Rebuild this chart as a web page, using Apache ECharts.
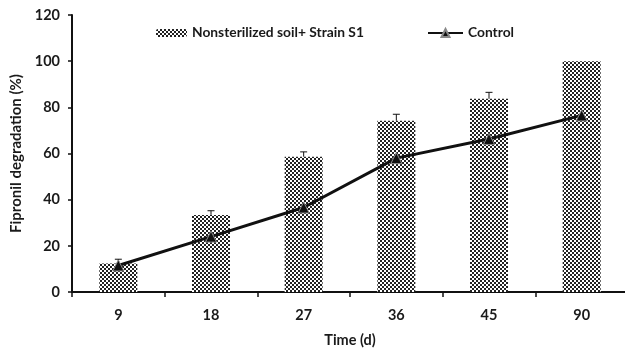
<!DOCTYPE html>
<html><head><meta charset="utf-8">
<script src="https://cdn.jsdelivr.net/npm/echarts@6/dist/echarts.min.js"></script>
<style>html,body{margin:0;padding:0;background:#fff}#c{width:625px;height:351px}</style>
</head><body><div id="c"></div>
<script>
const categories = ['9', '18', '27', '36', '45', '90'];
const strainValues = [12.4, 33.4, 58.6, 74.2, 83.7, 100];
const strainErrors = [1.8, 1.8, 2.1, 2.8, 2.8, 0];
const controlValues = [11.5, 24.0, 36.6, 58.0, 66.3, 76.5];
const yTicks = { min: 0, max: 120, interval: 20 };

const pc = document.createElement('canvas');
pc.width = 4; pc.height = 4;
const px = pc.getContext('2d');
px.fillStyle = '#fff'; px.fillRect(0, 0, 4, 4);
px.fillStyle = '#222'; px.fillRect(0, 0, 2, 2); px.fillRect(2, 2, 2, 2);
const pattern = { image: pc, repeat: 'repeat' };

const FONT = 'Lato';
const TXT = '#1a1a1a';
const chart = echarts.init(document.getElementById('c'), null, { renderer: 'canvas' });
chart.setOption({
  animation: false,
  backgroundColor: '#fff',
  textStyle: { fontFamily: FONT },
  grid: { left: 72, top: 15, width: 556, height: 277, containLabel: false, outerBoundsMode: 'none' },
  legend: [{
    data: ['Nonsterilized soil+ Strain S1'],
    left: 156, top: 26, padding: 0, itemWidth: 31, itemHeight: 8,
    textStyle: { fontFamily: FONT, fontWeight: 'bold', fontSize: 13.8, color: TXT }
  }, {
    data: ['Control'],
    left: 427, top: 26, padding: 0, itemWidth: 35, itemHeight: 10,
    textStyle: { fontFamily: FONT, fontWeight: 'bold', fontSize: 13.8, color: TXT }
  }],
  xAxis: {
    type: 'category', data: categories, boundaryGap: true,
    name: 'Time (d)', nameLocation: 'middle', nameGap: 41,
    nameTextStyle: { fontFamily: FONT, fontWeight: 'bold', fontSize: 14.5, color: TXT },
    axisLine: { lineStyle: { color: '#111', width: 2 } },
    axisTick: { show: true, length: 5, alignWithLabel: false, lineStyle: { color: '#111', width: 1.5 } },
    axisLabel: { fontFamily: FONT, fontWeight: 'bold', fontSize: 14.5, color: TXT, margin: 16 },
    splitLine: { show: false }
  },
  yAxis: {
    type: 'value', min: yTicks.min, max: yTicks.max, interval: yTicks.interval,
    name: 'Fipronil degradation (%)', nameLocation: 'middle', nameGap: 44,
    nameTextStyle: { fontFamily: FONT, fontWeight: 'bold', fontSize: 15, color: TXT },
    axisLine: { show: true, lineStyle: { color: '#111', width: 2 } },
    axisTick: { show: true, length: 4, lineStyle: { color: '#111', width: 1.5 } },
    axisLabel: { fontFamily: FONT, fontWeight: 'bold', fontSize: 14.5, color: TXT, margin: 12 },
    splitLine: { show: false }
  },
  series: [{
    name: 'Nonsterilized soil+ Strain S1', type: 'bar', data: strainValues,
    barWidth: 38, itemStyle: { color: pattern }, z: 2
  }, {
    name: 'errors', type: 'custom', z: 3,
    data: strainValues.map((v, i) => [i, v, strainErrors[i]]),
    renderItem: function (params, api) {
      const e = api.value(2);
      if (!e) return null;
      const p0 = api.coord([api.value(0), api.value(1)]);
      const p1 = api.coord([api.value(0), api.value(1) + e]);
      const st = { stroke: '#111', lineWidth: 1 };
      return { type: 'group', children: [
        { type: 'line', shape: { x1: p0[0], y1: p0[1], x2: p1[0], y2: p1[1] }, style: st },
        { type: 'line', shape: { x1: p1[0] - 3.5, y1: p1[1], x2: p1[0] + 3.5, y2: p1[1] }, style: st }
      ]};
    }
  }, {
    name: 'Control', type: 'line', data: controlValues, z: 4,
    symbol: 'triangle', symbolSize: 11,
    lineStyle: { color: '#111', width: 3 },
    itemStyle: { color: '#111', borderColor: '#888', borderWidth: 1 }
  }]
});
</script></body></html>
